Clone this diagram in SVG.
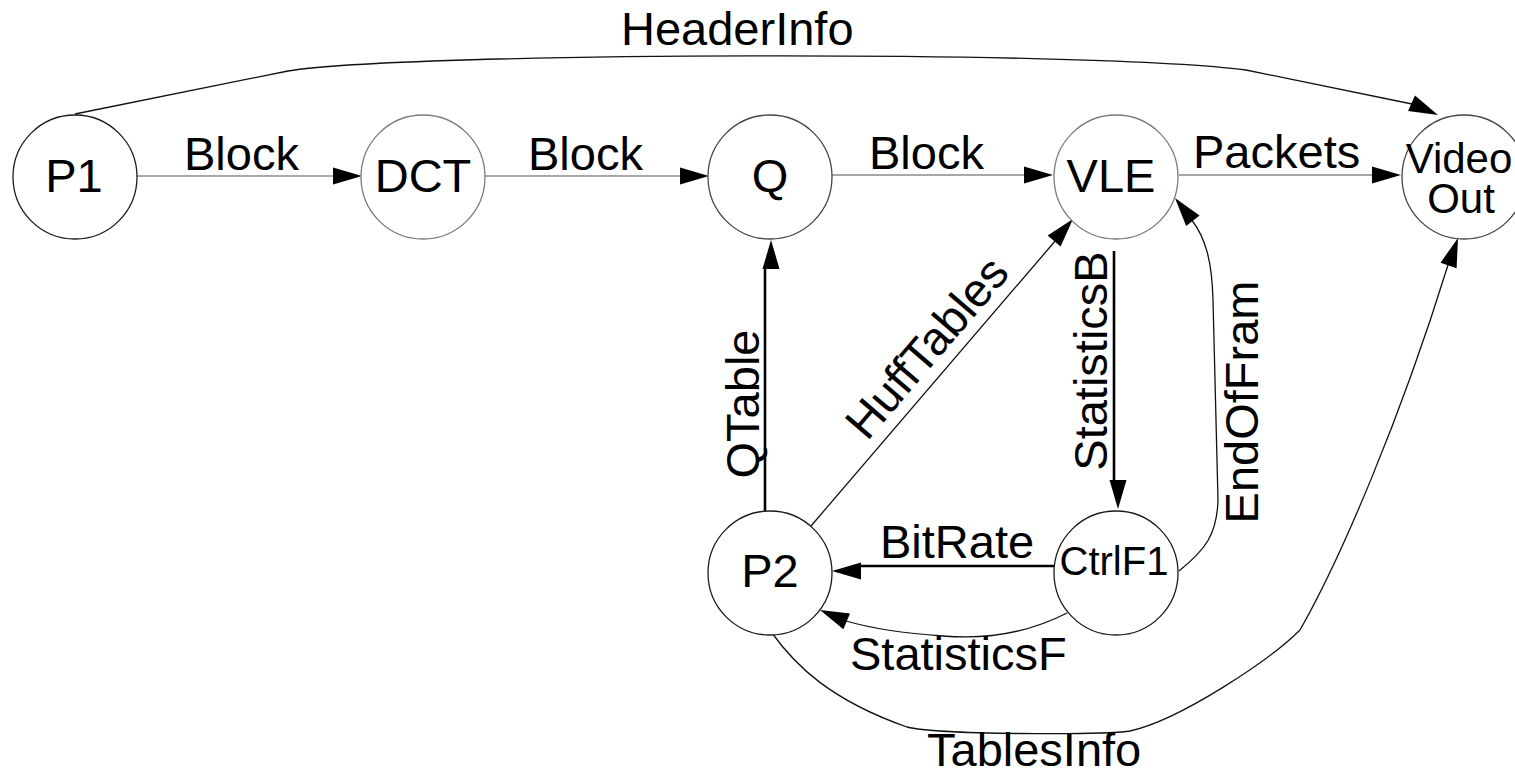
<svg xmlns="http://www.w3.org/2000/svg" xmlns:xlink="http://www.w3.org/1999/xlink" width="1515" height="773" viewBox="0 0 1515 773">
<style>
  text { font-family: "Liberation Sans", Arial, sans-serif; font-size: 47px; fill: #000; }
  .node circle { fill: #fff; stroke-width: 1.3; }
  .dark circle { stroke: #1a1a1a; }
  .grey circle { stroke: #7a7a7a; }
  .mid circle { stroke: #444; }
  .thin { fill: none; stroke: #8a8a8a; stroke-width: 1.6; }
  .curve { fill: none; stroke: #111; stroke-width: 1.3; }
  .thick { fill: none; stroke: #000; stroke-width: 2.6; }
  .head { fill: #000; stroke: none; }
  .mid-t { text-anchor: middle; }
</style>
<defs>
  <path id="ah" d="M0,0 L-29,-8.5 L-29,8.5 Z"/>
</defs>
<rect width="1515" height="773" fill="#fff"/>

<g id="connectors">
  <!-- HeaderInfo -->
  <path class="curve" d="M75,114 L288,71 C400,52 1100,50 1246,70 L1412,104"/>
  <use href="#ah" class="head" transform="translate(1438,115) rotate(24)"/>
  <text x="621" y="45">HeaderInfo</text>

  <!-- Block P1 -> DCT -->
  <line class="thin" x1="137" y1="176" x2="334" y2="176"/>
  <use href="#ah" class="head" transform="translate(362,176)"/>
  <text x="184" y="170">Block</text>

  <!-- Block DCT -> Q -->
  <line class="thin" x1="485" y1="176" x2="681" y2="176"/>
  <use href="#ah" class="head" transform="translate(709,176)"/>
  <text x="528" y="170">Block</text>

  <!-- Block Q -> VLE -->
  <line class="thin" x1="832" y1="175" x2="1025" y2="175"/>
  <use href="#ah" class="head" transform="translate(1053,175)"/>
  <text x="869" y="169">Block</text>

  <!-- Packets VLE -> Video Out -->
  <line class="thin" x1="1179" y1="175" x2="1373" y2="175"/>
  <use href="#ah" class="head" transform="translate(1401,175)"/>
  <text x="1193" y="168">Packets</text>

  <!-- QTable P2 -> Q -->
  <line class="thick" x1="765" y1="511" x2="765" y2="268"/>
  <use href="#ah" class="head" transform="translate(771,240) rotate(-90)"/>
  <text class="mid-t" transform="translate(759,404) rotate(-90)">QTable</text>

  <!-- HuffTables P2 -> VLE -->
  <line class="curve" x1="811" y1="526" x2="1056" y2="240"/>
  <use href="#ah" class="head" transform="translate(1073,219) rotate(-49.4)"/>
  <text class="mid-t" transform="translate(939,358) rotate(-49.4)">HuffTables</text>

  <!-- StatisticsB VLE -> CtrlF1 -->
  <line class="thick" x1="1114" y1="251" x2="1114" y2="481"/>
  <use href="#ah" class="head" transform="translate(1118,509) rotate(90)"/>
  <text class="mid-t" transform="translate(1107,361) rotate(-90)">StatisticsB</text>

  <!-- EndOfFram CtrlF1 -> VLE -->
  <path class="curve" d="M1179,571 C1205,550 1217,535 1218,500 L1213,300 C1212,262 1206,238 1191,219"/>
  <use href="#ah" class="head" transform="translate(1175,198) rotate(-128)"/>
  <text class="mid-t" transform="translate(1258,402) rotate(-90)">EndOfFram</text>

  <!-- BitRate CtrlF1 -> P2 -->
  <line class="thick" x1="1054" y1="566" x2="860" y2="566"/>
  <use href="#ah" class="head" transform="translate(832,571) rotate(180)"/>
  <text x="880" y="558">BitRate</text>

  <!-- StatisticsF CtrlF1 -> P2 -->
  <path class="curve" d="M1067,613 C1030,632 990,640 943,636 C900,633 870,628 846,621"/>
  <use href="#ah" class="head" transform="translate(820,610) rotate(-157)"/>
  <text x="850" y="670">StatisticsF</text>

  <!-- TablesInfo P2 -> Video Out -->
  <path class="curve" d="M772,633 C795,665 830,700 907,727 C940,735 1100,735 1130,731 C1180,720 1270,660 1300,630 C1340,560 1400,420 1448,265"/>
  <use href="#ah" class="head" transform="translate(1458,238) rotate(-71)"/>
  <text x="927" y="766">TablesInfo</text>
</g>

<g id="node-p1" class="node dark">
  <circle cx="75" cy="177" r="62"/>
  <text class="mid-t" x="74" y="192">P1</text>
</g>
<g id="node-dct" class="node grey">
  <circle cx="423" cy="177" r="62"/>
  <text class="mid-t" x="423" y="192">DCT</text>
</g>
<g id="node-q" class="node mid">
  <circle cx="770" cy="177" r="62"/>
  <text class="mid-t" x="770" y="192">Q</text>
</g>
<g id="node-vle" class="node grey">
  <circle cx="1116" cy="177" r="62"/>
  <text class="mid-t" x="1111" y="192">VLE</text>
</g>
<g id="node-videoout" class="node mid">
  <circle cx="1464" cy="177" r="62"/>
  <text class="mid-t" style="font-size:42px"><tspan x="1459" y="173">Video</tspan><tspan x="1461" y="213">Out</tspan></text>
</g>
<g id="node-p2" class="node dark">
  <circle cx="770" cy="573" r="62"/>
  <text class="mid-t" x="770" y="587">P2</text>
</g>
<g id="node-ctrlf1" class="node dark">
  <circle cx="1116" cy="573" r="62"/>
  <text class="mid-t" x="1114" y="575" style="font-size:40px">CtrlF1</text>
</g>
</svg>
